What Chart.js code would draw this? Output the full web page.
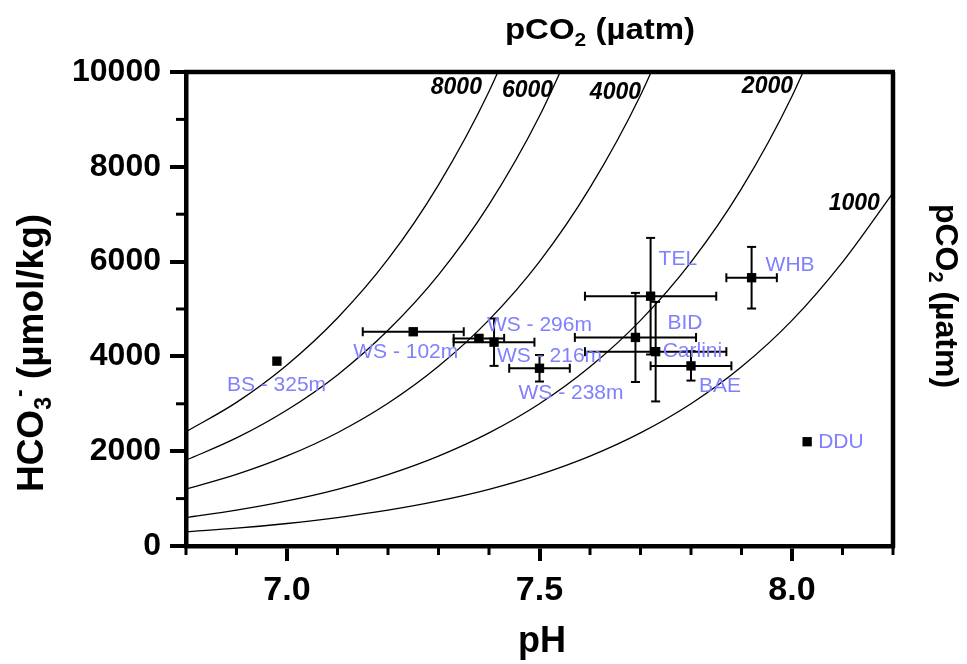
<!DOCTYPE html>
<html>
<head>
<meta charset="utf-8">
<script src="https://cdn.jsdelivr.net/npm/chart.js@4.4.1/dist/chart.umd.min.js"></script>
<style>
  html, body { margin: 0; padding: 0; background: #fff; }
  canvas { display: block; }
</style>
</head>
<body>
<canvas id="grafico" width="967" height="664"></canvas>
<script>
// --- DATA ---
const sites = ["BS - 325m", "WS - 102m", "WS - 296m", "WS - 216m", "WS - 238m", "TEL", "WHB", "BID", "Carlini", "BAE", "DDU"];
const phValues = [6.98, 7.25, 7.38, 7.41, 7.50, 7.72, 7.92, 7.69, 7.73, 7.80, 8.03];
const hco3Values = [3900, 4520, 4380, 4300, 3750, 5270, 5660, 4400, 4100, 3800, 2200];
const phErr = [0, 0.10, 0.05, 0.08, 0.06, 0.13, 0.05, 0.12, 0.14, 0.08, 0];
const hco3Err = [0, 60, 60, 500, 280, 1230, 650, 940, 1050, 310, 0];

// pCO2 isolines, HCO3- read at each pH step
const curvePh = [6.8, 6.9, 7.0, 7.1, 7.2, 7.3, 7.4, 7.5, 7.6, 7.7, 7.8, 7.9, 8.0, 8.1, 8.2];
const pco2Levels = ["1000", "2000", "4000", "6000", "8000"];
const hco3At1000 = [300, 375, 475, 600, 755, 950, 1195, 1505, 1895, 2385, 3000, 3780, 4760, 5990, 7450];
const hco3At2000 = [600, 755, 950, 1195, 1505, 1895, 2385, 3000, 3780, 4760, 5990, 7540, 9490, 11950];
const hco3At4000 = [1200, 1510, 1900, 2390, 3010, 3790, 4770, 6000, 7560, 9510, 11970];
const hco3At6000 = [1810, 2280, 2870, 3610, 4550, 5720, 7200, 9070, 11420];
const hco3At8000 = [2410, 3030, 3820, 4810, 6050, 7620, 9590, 12080];

const xMajorTicks = [7.0, 7.5, 8.0];
const xMinorTicks = [6.8, 6.9, 7.1, 7.2, 7.3, 7.4, 7.6, 7.7, 7.8, 7.9, 8.1, 8.2];
const yMajorTicks = [0, 2000, 4000, 6000, 8000, 10000];
const yMinorTicks = [1000, 3000, 5000, 7000, 9000];

// --- STYLE / PLACEMENT ---
const FONT = '"Liberation Sans", Arial, sans-serif';
const labelColor = "#7f7fff";
// pixel offsets of each site label from its point
const siteLabelOffsets = [[-50, 24], [-60, 20], [8, -13], [3, 14], [-21, 25], [8, -37], [14, -13], [32, -14], [7, 0], [8, 20], [11, 0]];
// isoline label anchors (right edge) in data units, same order as pco2Levels
const curveLabelAnchors = [[8.174, 7215], [8.002, 9700], [7.701, 9560], [7.527, 9600], [7.386, 9660]];

// --- HELPERS ---
function line(ctx, x1, y1, x2, y2) {
  ctx.beginPath();
  ctx.moveTo(x1, y1);
  ctx.lineTo(x2, y2);
  ctx.stroke();
}

// text with sub/superscripts, drawn centred on the current origin
function drawRich(ctx, parts, size) {
  const big = `bold ${size}px ${FONT}`;
  const small = `bold ${Math.round(size * 0.62)}px ${FONT}`;
  let w = 0;
  parts.forEach(p => {
    ctx.font = p[1] ? small : big;
    p.w = ctx.measureText(p[0]).width;
    w += p.w;
  });
  let x = -w / 2;
  parts.forEach(p => {
    ctx.font = p[1] ? small : big;
    const dy = p[1] === "sub" ? size * 0.22 : p[1] === "sup" ? -size * 0.42 : 0;
    ctx.fillText(p[0], x, dy);
    x += p.w;
  });
}

function toPoints(ys) {
  return ys.map((y, i) => ({ x: curvePh[i], y }));
}

// --- PLUGIN: frame, minor ticks, error bars, texts ---
const extras = {
  id: "extras",
  beforeDatasetsDraw(chart) {
    const { ctx } = chart;
    const xs = chart.scales.x, ys = chart.scales.y;
    ctx.save();
    ctx.strokeStyle = "#000";
    ctx.lineWidth = 2;
    const cap = 4.5;
    phValues.forEach((ph, i) => {
      const px = xs.getPixelForValue(ph), py = ys.getPixelForValue(hco3Values[i]);
      if (phErr[i]) {
        const a = xs.getPixelForValue(ph - phErr[i]), b = xs.getPixelForValue(ph + phErr[i]);
        line(ctx, a, py, b, py);
        line(ctx, a, py - cap, a, py + cap);
        line(ctx, b, py - cap, b, py + cap);
      }
      if (hco3Err[i]) {
        const a = ys.getPixelForValue(hco3Values[i] - hco3Err[i]), b = ys.getPixelForValue(hco3Values[i] + hco3Err[i]);
        line(ctx, px, a, px, b);
        line(ctx, px - cap, a, px + cap, a);
        line(ctx, px - cap, b, px + cap, b);
      }
    });
    ctx.restore();
  },
  afterDraw(chart) {
    const { ctx, chartArea } = chart;
    const { left, right, top, bottom } = chartArea;
    const xs = chart.scales.x, ys = chart.scales.y;
    ctx.save();
    ctx.strokeStyle = "#000";
    ctx.fillStyle = "#000";

    // box top + right
    ctx.lineWidth = 4.5;
    line(ctx, left - 2, top, right + 2, top);
    line(ctx, right, top, right, bottom + 2);

    // minor ticks
    ctx.lineWidth = 3;
    xMinorTicks.forEach(v => {
      const px = xs.getPixelForValue(v);
      line(ctx, px, bottom, px, bottom + 9);
    });
    yMinorTicks.forEach(v => {
      const py = ys.getPixelForValue(v);
      line(ctx, left - 10, py, left, py);
    });

    // site labels
    ctx.font = `21px ${FONT}`;
    ctx.fillStyle = labelColor;
    ctx.textAlign = "left";
    ctx.textBaseline = "middle";
    sites.forEach((s, i) => {
      const px = xs.getPixelForValue(phValues[i]), py = ys.getPixelForValue(hco3Values[i]);
      ctx.fillText(s, px + siteLabelOffsets[i][0], py + siteLabelOffsets[i][1]);
    });

    // isoline labels
    ctx.fillStyle = "#000";
    ctx.font = `italic bold 23px ${FONT}`;
    ctx.textAlign = "right";
    pco2Levels.forEach((lvl, i) => {
      const a = curveLabelAnchors[i];
      ctx.fillText(lvl, xs.getPixelForValue(a[0]), ys.getPixelForValue(a[1]));
    });

    // titles
    ctx.textAlign = "left";
    ctx.textBaseline = "alphabetic";
    const pco2Title = [["pCO"], ["2", "sub"], [" (µatm)"]];

    ctx.save();
    ctx.translate(600, 39);
    ctx.scale(1.1, 1);
    drawRich(ctx, pco2Title, 30);
    ctx.restore();

    ctx.save();
    ctx.translate(936, 296);
    ctx.rotate(Math.PI / 2);
    drawRich(ctx, pco2Title, 32);
    ctx.restore();

    ctx.save();
    ctx.translate(43, 353);
    ctx.rotate(-Math.PI / 2);
    drawRich(ctx, [["HCO"], ["3", "sub"], ["-", "sup"], [" (µmol/kg)"]], 37);
    ctx.restore();

    ctx.save();
    ctx.translate(542, 652);
    drawRich(ctx, [["pH"]], 36);
    ctx.restore();

    ctx.restore();
  }
};

// --- CHART ---
const curveSets = [hco3At1000, hco3At2000, hco3At4000, hco3At6000, hco3At8000].map((vals, i) => ({
  label: "pCO2 " + pco2Levels[i],
  data: toPoints(vals),
  showLine: true,
  borderColor: "#000",
  borderWidth: 1.3,
  pointRadius: 0,
  cubicInterpolationMode: "monotone",
  fill: false
}));

const siteSet = {
  label: "sites",
  data: phValues.map((x, i) => ({ x, y: hco3Values[i] })),
  pointStyle: "rect",
  pointRadius: 6.6,
  backgroundColor: "#000",
  borderWidth: 0,
  showLine: false
};

new Chart(document.getElementById("grafico"), {
  type: "scatter",
  data: { datasets: [...curveSets, siteSet] },
  options: {
    responsive: false,
    animation: false,
    devicePixelRatio: 1,
    layout: { padding: { top: 72, right: 74, left: 0, bottom: 0 } },
    plugins: { legend: { display: false }, tooltip: { enabled: false } },
    scales: {
      x: {
        type: "linear",
        min: 6.8,
        max: 8.2,
        afterBuildTicks: s => { s.ticks = xMajorTicks.map(v => ({ value: v })); },
        afterFit: s => { s.height = 118; },
        grid: { drawOnChartArea: false, tickLength: 15, lineWidth: 4, tickWidth: 4, tickColor: "#000" },
        border: { display: true, color: "#000", width: 4.5 },
        ticks: {
          color: "#000",
          font: { family: FONT, size: 34, weight: "bold" },
          padding: 9,
          maxRotation: 0,
          autoSkip: false,
          callback: v => v.toFixed(1)
        }
      },
      y: {
        type: "linear",
        min: 0,
        max: 10000,
        afterBuildTicks: s => { s.ticks = yMajorTicks.map(v => ({ value: v })); },
        afterFit: s => { s.width = 186; },
        grid: { drawOnChartArea: false, tickLength: 16, lineWidth: 4, tickWidth: 4, tickColor: "#000" },
        border: { display: true, color: "#000", width: 4.5 },
        ticks: {
          color: "#000",
          font: { family: FONT, size: 32, weight: "bold" },
          padding: 9,
          autoSkip: false,
          callback: v => String(v)
        }
      }
    }
  },
  plugins: [extras]
});
</script>
</body>
</html>
